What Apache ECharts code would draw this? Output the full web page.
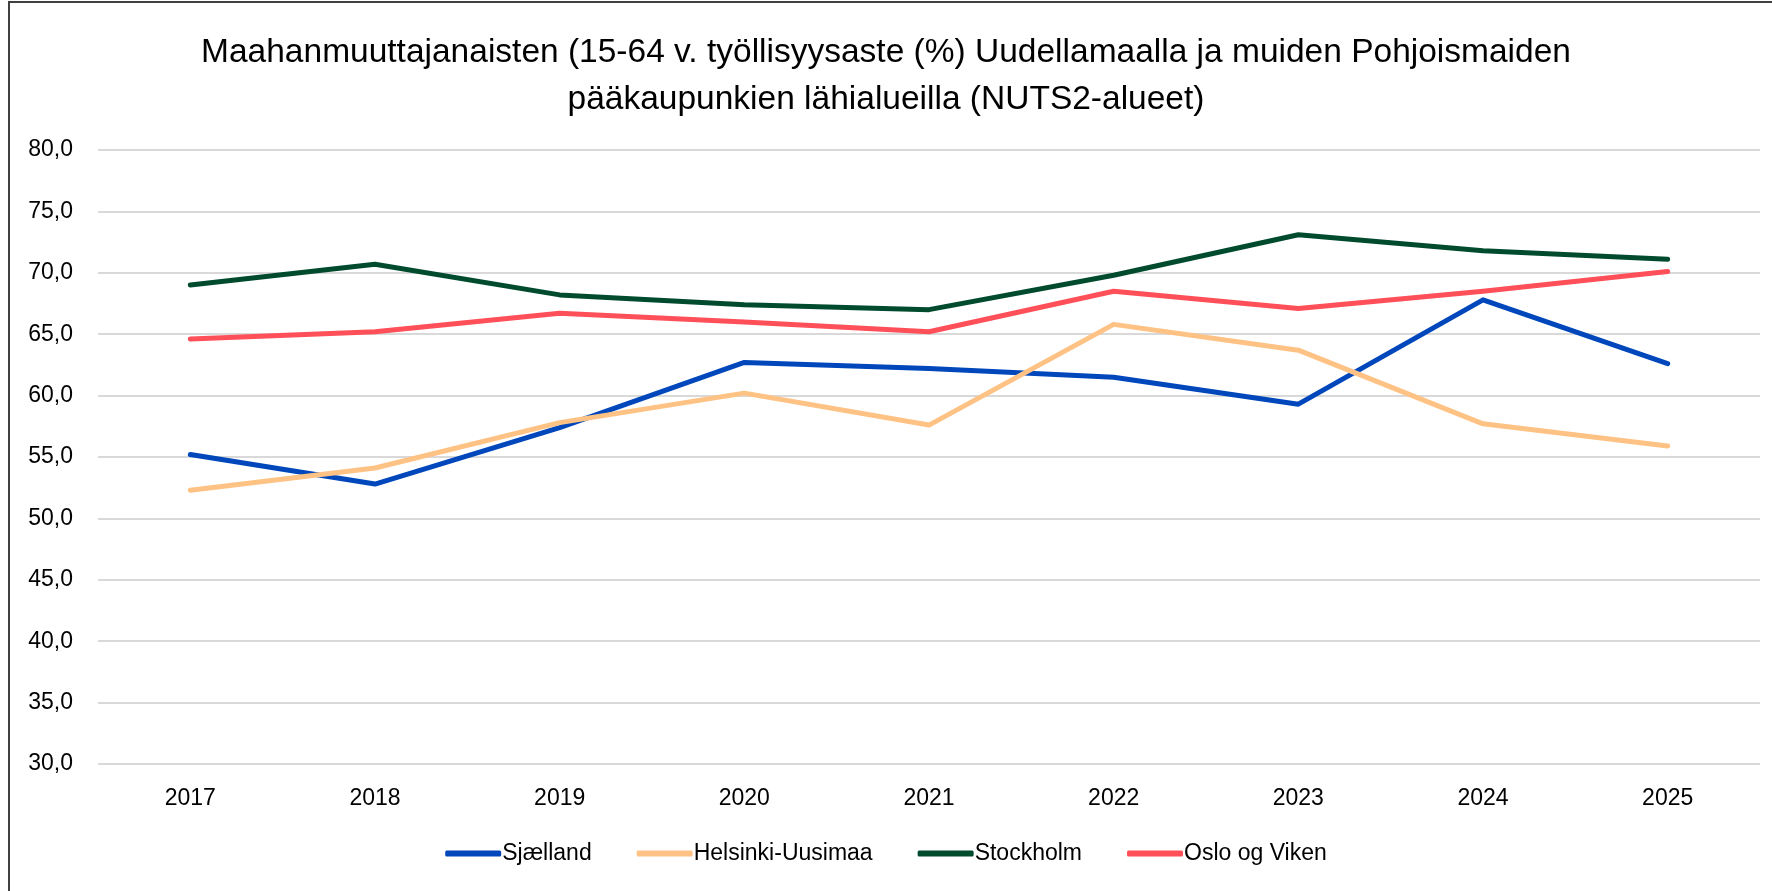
<!DOCTYPE html>
<html>
<head>
<meta charset="utf-8">
<script src="https://cdn.jsdelivr.net/npm/echarts@6/dist/echarts.min.js"></script>
<style>
html,body{margin:0;padding:0;background:#fff;}
#chart{width:1772px;height:891px;}
</style>
</head>
<body>
<div id="chart"></div>
<script>
const titleText = "Maahanmuuttajanaisten (15-64 v. työllisyysaste (%) Uudellamaalla ja muiden Pohjoismaiden\npääkaupunkien lähialueilla (NUTS2-alueet)";
const years = ["2017","2018","2019","2020","2021","2022","2023","2024","2025"];
const seriesNames = ["Sjælland","Helsinki-Uusimaa","Stockholm","Oslo og Viken"];
const sjaelland = [55.2, 52.8, 57.4, 62.7, 62.2, 61.5, 59.3, 67.8, 62.6];
const helsinki  = [52.3, 54.1, 57.8, 60.2, 57.6, 65.8, 63.7, 57.7, 55.9];
const stockholm = [69.0, 70.7, 68.2, 67.4, 67.0, 69.8, 73.1, 71.8, 71.1];
const oslo      = [64.6, 65.2, 66.7, 66.0, 65.2, 68.5, 67.1, 68.5, 70.1];
const colors = ["#0047BB","#FFC285","#004B2E","#FF4F58"];

const font = "'Liberation Sans', Arial, sans-serif";
const chart = echarts.init(document.getElementById('chart'));
const dataSets = [sjaelland, helsinki, stockholm, oslo];
chart.setOption({
  animation:false,
  backgroundColor:'#fff',
  title:{
    text:titleText, left:'center', top:24,
    textStyle:{fontFamily:font, fontSize:33.5, fontWeight:'normal', color:'#000', lineHeight:47}
  },
  graphic:[{
    type:'rect', shape:{x:9,y:2,width:1800,height:1000},
    style:{fill:'none', stroke:'#404040', lineWidth:2}, silent:true
  }],
  legend:{
    top:837, left:'center', itemWidth:56, itemHeight:6, itemGap:45, icon:'roundRect',
    textStyle:{fontFamily:font, fontSize:23, color:'#000', padding:[0,0,0,-4]},
    data:seriesNames
  },
  grid:{left:98, right:12, top:150, bottom:127, containLabel:false},
  xAxis:{
    type:'category', data:years, boundaryGap:true,
    axisLine:{show:false}, axisTick:{show:false},
    axisLabel:{fontFamily:font, fontSize:23, color:'#000', margin:23}
  },
  yAxis:{
    type:'value', min:30, max:80, interval:5,
    axisLine:{show:false}, axisTick:{show:false},
    splitLine:{lineStyle:{color:'#D9D9D9', width:2}},
    axisLabel:{fontFamily:font, fontSize:23, color:'#000', margin:25,
      formatter:v=>v.toFixed(1).replace('.',',')}
  },
  series: seriesNames.map((n,i)=>({
    name:n, type:'line', data:dataSets[i], showSymbol:false, symbol:'none',
    lineStyle:{color:colors[i], width:5, cap:'round', join:'round'},
    itemStyle:{color:colors[i]}
  }))
});
</script>
</body>
</html>
